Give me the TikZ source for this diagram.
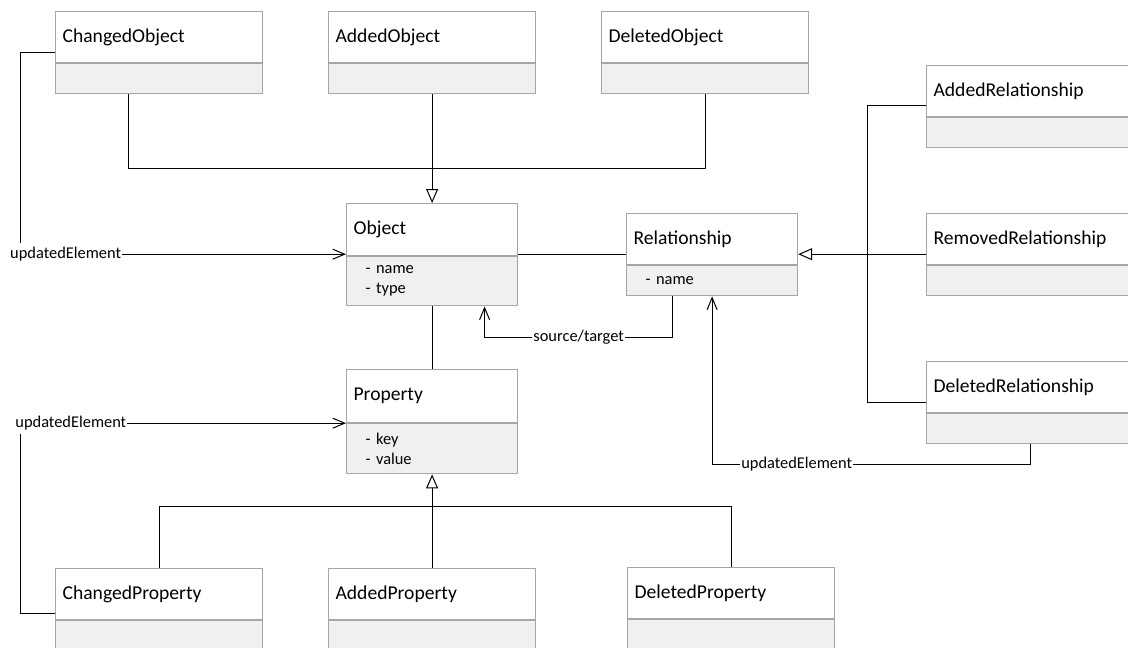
\documentclass[tikz,border=0pt]{standalone}
\usepackage{fontspec}
\setmainfont{Carlito}
\usetikzlibrary{arrows.meta,positioning}
\definecolor{boxgray}{RGB}{166,166,166}
\definecolor{bodygray}{RGB}{240,240,240}
\newcommand{\clsfont}{\fontsize{19.6}{23}\selectfont}
\newcommand{\attrfont}{\fontsize{16.4}{20}\selectfont}

\begin{document}
\begin{tikzpicture}[x=1pt,y=-1pt,
  clshead/.style={draw=boxgray, line width=1.2pt, fill=white, anchor=north west,
    inner xsep=7pt, inner ysep=0pt, minimum height=51pt, align=left, font=\clsfont},
  clsbody/.style={draw=boxgray, line width=1.2pt, fill=bodygray,
    inner xsep=19pt, inner ysep=3pt, minimum height=30pt, align=left, font=\attrfont},
  whead/.style={text width=193pt}, wbody/.style={text width=169pt},
  nhead/.style={text width=157pt}, nbody/.style={text width=133pt},
  line/.style={draw=black, line width=1pt},
  gen/.style={line, -{Triangle[open, length=14pt, width=12pt, fill=white]}},
  nav/.style={line, -{Straight Barb[length=12pt, width=10pt]}},
  lbl/.style={fill=white, font=\attrfont, inner xsep=1pt, inner ysep=4pt}]
\useasboundingbox (0,0) rectangle (1128,648);

% classes
\node[clshead, whead] (chobj) at (55,11) {ChangedObject};
\node[clsbody, wbody, below=0pt of chobj] (chobj-b) {};
\node[clshead, whead] (addobj) at (328,11) {AddedObject};
\node[clsbody, wbody, below=0pt of addobj] (addobj-b) {};
\node[clshead, whead] (delobj) at (601,11) {DeletedObject};
\node[clsbody, wbody, below=0pt of delobj] (delobj-b) {};

\node[clshead, nhead, minimum height=52pt] (obj) at (346,203) {Object};
\node[clsbody, nbody, minimum height=49pt, below=0pt of obj] (obj-b) {- name\\- type};
\node[clshead, nhead] (rel) at (626,213) {Relationship};
\node[clsbody, nbody, below=0pt of rel] (rel-b) {- name};

\node[clshead, whead] (addrel) at (926,65) {AddedRelationship};
\node[clsbody, wbody, below=0pt of addrel] (addrel-b) {};
\node[clshead, whead] (remrel) at (926,213) {RemovedRelationship};
\node[clsbody, wbody, below=0pt of remrel] (remrel-b) {};
\node[clshead, whead] (delrel) at (926,361) {DeletedRelationship};
\node[clsbody, wbody, below=0pt of delrel] (delrel-b) {};

\node[clshead, nhead, minimum height=53pt] (prop) at (346,369) {Property};
\node[clsbody, nbody, minimum height=50pt, below=0pt of prop] (prop-b) {- key\\- value};

\node[clshead, whead] (chprop) at (55,568) {ChangedProperty};
\node[clsbody, wbody, below=0pt of chprop] (chprop-b) {};
\node[clshead, whead] (addprop) at (328,568) {AddedProperty};
\node[clsbody, wbody, below=0pt of addprop] (addprop-b) {};
\node[clshead, whead] (delprop) at (627,567) {DeletedProperty};
\node[clsbody, wbody, below=0pt of delprop] (delprop-b) {};

% generalisations
\draw[gen] (addobj-b.south) -- (obj.north);
\draw[line] ([xshift=-31pt]chobj-b.south) -- ++(0,74) -| (delobj-b.south);
\draw[gen] ([yshift=11pt]remrel.south west) -- ([yshift=11pt]rel.south east);
\draw[line] ([yshift=12pt]addrel.south west) -- ++(-59,0) |- ([yshift=11pt]delrel.south west);
\draw[gen] (addprop.north) -- (prop-b.south);
\draw[line] (chprop.north) -- ++(0,-62) -| (delprop.north);

% associations
\draw[line] ([yshift=2pt]obj-b.north east) -- ([yshift=11pt]rel.south west);
\draw[line] (obj-b.south) -- (prop.north);
\draw[nav] ([yshift=11pt]chobj.south west) -- ++(-35,0)
  |- node[lbl, pos=0.57] (upd1) {updatedElement} ([yshift=2pt]obj-b.north west);
\draw[nav] ([yshift=7pt]chprop.south west) -- ++(-35,0)
  |- node[lbl, pos=0.578] (upd2) {updatedElement} (prop-b.north west);
\draw[nav] ([xshift=-39.5pt]rel-b.south) -- ++(0,41)
  -| node[lbl, pos=0.25] (srctgt) {source/target} ([xshift=52.5pt]obj-b.south);
\draw[nav] (delrel-b.south) -- ++(0,20)
  -| node[lbl, pos=0.367] (upd3) {updatedElement} (rel-b.south);
\end{tikzpicture}
\end{document}
